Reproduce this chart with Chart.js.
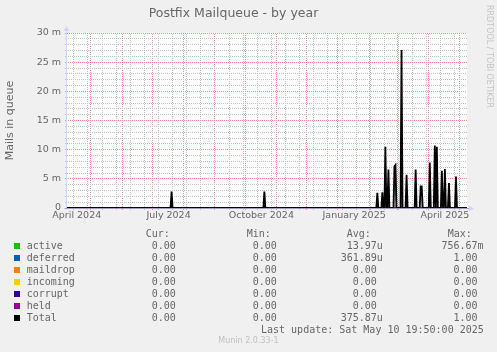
<!DOCTYPE html>
<html><head><meta charset="utf-8">
<script src="https://cdn.jsdelivr.net/npm/chart.js@4"></script>
<style>
html,body{margin:0;padding:0;background:#f0f0f0;}
#wrap{position:relative;width:497px;height:352px;overflow:hidden;background:#f0f0f0;}
#c{position:absolute;left:0;top:0;}
.t{position:absolute;font-family:"DejaVu Sans Mono",monospace;font-size:10px;line-height:12px;height:12px;color:#666;white-space:pre;}
.sq{position:absolute;width:6px;height:6px;}
#wm{position:absolute;left:484px;top:5px;writing-mode:vertical-rl;font-family:"DejaVu Sans",sans-serif;font-size:8px;line-height:10px;color:#c4c4c4;white-space:pre;}
#ver{position:absolute;left:0;width:497px;text-align:center;top:335px;font-family:"DejaVu Sans",sans-serif;font-size:8px;line-height:11px;color:#c0c0c0;}
</style></head><body>
<div id="wrap">
<canvas id="c" width="497" height="352"></canvas>
<div id="wm">RRDTOOL / TOBI OETIKER</div>
<div id="ver">Munin 2.0.33-1</div>
</div>
<script>
// ---------------- data ----------------
const titleText = 'Postfix Mailqueue - by year';
const yAxisTitle = 'Mails in queue';
// daily consolidated values, in milli (m) units
const activeDates  = ['2024-07-20', '2024-10-20'];
const activeValues = [2.8, 2.8];
const deferredDates  = ['2025-02-09','2025-02-14','2025-02-17','2025-02-20','2025-02-26','2025-02-27',
                        '2025-03-05','2025-03-10','2025-03-19','2025-03-24','2025-03-25',
                        '2025-04-02','2025-04-07','2025-04-09','2025-04-14','2025-04-17','2025-04-21','2025-04-28'];
const deferredValues = [2.6, 2.7, 10.5, 6.6, 7.2, 7.4,
                        27.1, 5.7, 6.6, 3.7, 3.7,
                        7.8, 10.7, 10.5, 6.4, 6.7, 4.3, 5.4];
const yTickLabels = ['0', '5 m', '10 m', '15 m', '20 m', '25 m', '30 m'];
const xLabelMonths = ['2024-04-01', '2024-07-01', '2024-10-01', '2025-01-01', '2025-04-01'];
const xLabelTexts  = ['April 2024', 'July 2024', 'October 2024', 'January 2025', 'April 2025'];
const legendNames = ['active', 'deferred', 'maildrop', 'incoming', 'corrupt', 'held', 'Total'];
const legendCur = ['0.00', '0.00', '0.00', '0.00', '0.00', '0.00', '0.00'];
const legendMin = ['0.00', '0.00', '0.00', '0.00', '0.00', '0.00', '0.00'];
const legendAvg = ['13.97u', '361.89u', '0.00', '0.00', '0.00', '0.00', '375.87u'];
const legendMax = ['756.67m', '1.00', '0.00', '0.00', '0.00', '0.00', '1.00'];
const lastUpdate = 'Last update: Sat May 10 19:50:00 2025';

// ---------------- styles ----------------
const seriesColors = ['#00CC00', '#0066B3', '#FF8000', '#FFCC00', '#330099', '#990099', '#000000'];
const FONT = '"DejaVu Sans", sans-serif';
const TXT = '#666666';
const GRID_C = '#c2c2c2';
const MGRID_C = '#f29090';
const AXIS = '#CFD6F8';
const BASE = '#a49cc4';

const canvas = document.getElementById('c');
const mainCtx = canvas.getContext('2d');
function dotPattern(color) {
  const c = document.createElement('canvas');
  c.width = 2; c.height = 2;
  const g = c.getContext('2d');
  g.fillStyle = color;
  g.fillRect(0, 0, 1, 1);
  g.fillRect(1, 1, 1, 1);
  return mainCtx.createPattern(c, 'repeat');
}
const GRID = dotPattern(GRID_C);
const MGRID = dotPattern(MGRID_C);

// ---------------- helpers ----------------
const DAY = 86400000;
const dayOf = s => Date.parse(s + 'T00:00:00Z') / DAY;
const xMin = Date.UTC(2024, 3, 7, 7) / DAY;
const xMax = Date.UTC(2025, 4, 8, 22) / DAY;
const days = [];
for (let d = Math.floor(xMin) - 1; d <= Math.ceil(xMax) + 1; d++) days.push(d);
function seriesFrom(dates, values) {
  const m = new Map(dates.map((s, i) => [dayOf(s), values[i]]));
  return days.map(d => m.get(d) || 0);
}
const activeS = seriesFrom(activeDates, activeValues);
const deferredS = seriesFrom(deferredDates, deferredValues);
const zeroS = seriesFrom([], []);
const totalS = days.map((d, i) => activeS[i] + deferredS[i]);
const pts = arr => arr.map((v, i) => ({x: days[i], y: v}));

// x ticks: month starts (major), biweekly sundays (minor), label ticks (mid-month)
const majorTicks = [];
for (let y = 2024, m = 4; y * 12 + m <= 2025 * 12 + 4; m++) {
  if (m > 11) { m = 0; y++; }
  majorTicks.push(Date.UTC(y, m, 1) / DAY);
}
const majorSet = new Set(majorTicks);
const minorTicks = [];
for (let d = dayOf('2024-04-14'); d <= xMax; d += 14) if (!majorSet.has(d)) minorTicks.push(d);
const labelTickMap = new Map(xLabelMonths.map((s, i) => [dayOf(s) + 16, xLabelTexts[i]]));
const inX = v => v >= xMin && v <= xMax;
const yMajorTicks = [0, 5, 10, 15, 20, 25, 30];
const yMinorTicks = [];
for (let v = 1; v < 30; v++) if (v % 5 !== 0) yMinorTicks.push(v);

const bgPlugin = {
  id: 'bg',
  beforeDraw(chart) {
    const {ctx, chartArea: a} = chart;
    ctx.save();
    ctx.fillStyle = '#ffffff';
    ctx.fillRect(a.left, a.top, a.right - a.left, a.bottom - a.top);
    ctx.restore();
  },
  afterDatasetsDraw(chart) {
    const {ctx, chartArea: a} = chart;
    ctx.save();
    ctx.setLineDash([]);
    ctx.lineWidth = 1;
    const lx = Math.round(a.left) - 0.5, by = Math.round(a.bottom) + 0.5;
    ctx.strokeStyle = AXIS; ctx.fillStyle = AXIS;
    ctx.beginPath();
    ctx.moveTo(lx, by); ctx.lineTo(lx, a.top - 3);
    ctx.stroke();
    ctx.beginPath();
    ctx.moveTo(lx, a.top - 7); ctx.lineTo(lx - 3, a.top - 2); ctx.lineTo(lx + 3, a.top - 2); ctx.closePath(); ctx.fill();
    ctx.beginPath();
    ctx.moveTo(a.right + 7, by); ctx.lineTo(a.right + 2, by - 3); ctx.lineTo(a.right + 2, by + 3); ctx.closePath(); ctx.fill();
    ctx.strokeStyle = BASE;
    ctx.beginPath();
    ctx.moveTo(lx - 2, by); ctx.lineTo(a.right + 2, by);
    ctx.stroke();
    ctx.restore();
  }
};

function deferredFill(context) {
  const chart = context.chart;
  const a = chart.chartArea;
  if (!a) return '#2c4a66';
  const g = chart.ctx.createLinearGradient(0, a.top, 0, a.bottom);
  g.addColorStop(0, '#0e1c2c');
  g.addColorStop(0.6, '#2c4a66');
  g.addColorStop(1, '#c9d8e6');
  return g;
}

const base = {pointRadius: 0, tension: 0, borderWidth: 1, xAxisID: 'x', yAxisID: 'y'};
const datasets = [
  Object.assign({label: 'Total', data: pts(totalS), borderColor: '#000000', fill: false, order: 0}, base, {borderWidth: 1.8}),
  Object.assign({label: 'active', data: pts(activeS), borderColor: seriesColors[0], backgroundColor: seriesColors[0], fill: 'origin', order: 6}, base, {borderWidth: 0}),
  Object.assign({label: 'deferred', data: pts(deferredS), borderColor: seriesColors[1], backgroundColor: deferredFill, fill: 'origin', order: 5}, base, {borderWidth: 0}),
  Object.assign({label: 'maildrop', data: pts(zeroS), borderColor: seriesColors[2], fill: false, order: 4}, base),
  Object.assign({label: 'incoming', data: pts(zeroS), borderColor: seriesColors[3], fill: false, order: 3}, base),
  Object.assign({label: 'corrupt', data: pts(zeroS), borderColor: seriesColors[4], fill: false, order: 2}, base),
  Object.assign({label: 'held', data: pts(zeroS), borderColor: seriesColors[5], fill: false, order: 1}, base),
];

function gridAxisX(list, color, tickColor, weight) {
  return {
    type: 'linear', position: 'bottom', min: xMin, max: xMax, weight,
    afterBuildTicks(scale) { scale.ticks = list.filter(inX).map(v => ({value: v})); },
    afterFit(scale) { scale.height = 0; },
    ticks: {display: false, autoSkip: false},
    grid: {display: true, color: color, tickColor: tickColor, tickLength: 2, drawTicks: true, lineWidth: 1},
    border: {display: false}
  };
}

new Chart(canvas, {
  type: 'line',
  data: {datasets},
  plugins: [bgPlugin],
  options: {
    responsive: false,
    animation: false,
    events: [],
    layout: {padding: {left: 0, right: 30, top: 0, bottom: 128}},
    plugins: {
      legend: {display: false},
      tooltip: {enabled: false},
      title: {display: true, text: titleText, color: TXT,
              font: {family: FONT, size: 12.5, weight: 'normal', lineHeight: 1.2},
              padding: {top: 6, bottom: 12}}
    },
    scales: {
      xMinor: gridAxisX(minorTicks, GRID, GRID_C, 0),
      xMajor: gridAxisX(majorTicks, MGRID, MGRID_C, 0),
      x: {
        type: 'linear', position: 'bottom', min: xMin, max: xMax, weight: 1,
        afterBuildTicks(scale) { scale.ticks = [...labelTickMap.keys()].filter(inX).map(v => ({value: v})); },
        afterFit(scale) { scale.height = 16; },
        ticks: {
          autoSkip: false, maxRotation: 0, minRotation: 0, padding: 2,
          color: TXT, font: {family: FONT, size: 9.5},
          callback: v => labelTickMap.get(v) || ''
        },
        grid: {display: false, drawTicks: false},
        border: {display: false}
      },
      yMinor: {
        type: 'linear', position: 'left', min: 0, max: 30, weight: 0,
        afterBuildTicks(scale) { scale.ticks = yMinorTicks.map(v => ({value: v})); },
        afterFit(scale) { scale.width = 0; },
        ticks: {display: false, autoSkip: false},
        grid: {display: true, color: GRID, tickColor: GRID_C, tickLength: 2, drawTicks: true, lineWidth: 1},
        border: {display: false}
      },
      y: {
        type: 'linear', position: 'left', min: 0, max: 30, weight: 1,
        afterBuildTicks(scale) { scale.ticks = yMajorTicks.map(v => ({value: v})); },
        afterFit(scale) { scale.width = 67; },
        ticks: {
          autoSkip: false, padding: 4, color: TXT, font: {family: FONT, size: 9.5},
          callback: v => yTickLabels[yMajorTicks.indexOf(v)]
        },
        grid: {display: true, color: MGRID, tickColor: MGRID_C, tickLength: 2, drawTicks: true, lineWidth: 1},
        border: {display: false},
        title: {display: true, text: yAxisTitle, color: TXT, font: {family: FONT, size: 11}, padding: {top: 4, bottom: 0}}
      }
    }
  }
});

// ---------------- legend table (HTML text) ----------------
const wrap = document.getElementById('wrap');
function addText(txt, opts) {
  const s = document.createElement('div');
  s.className = 't';
  s.textContent = txt;
  if (opts.left !== undefined) s.style.left = opts.left + 'px';
  if (opts.right !== undefined) { s.style.right = (497 - opts.right) + 'px'; s.style.textAlign = 'right'; }
  s.style.top = (opts.cy - 6) + 'px';
  wrap.appendChild(s);
}
const headY = 234;
addText('Cur:', {left: 145.7, cy: headY});
addText('Min:', {left: 246.7, cy: headY});
addText('Avg:', {left: 346.7, cy: headY});
addText('Max:', {left: 447.7, cy: headY});
const withUnit = v => (/[a-zA-Z]$/.test(v) ? v : v + ' ');
legendNames.forEach((name, i) => {
  const cy = 245.7 + 12 * i;
  const sq = document.createElement('div');
  sq.className = 'sq';
  sq.style.left = '14px';
  sq.style.top = (cy - 3) + 'px';
  sq.style.background = seriesColors[i];
  wrap.appendChild(sq);
  addText(name, {left: 26.7, cy});
  addText(withUnit(legendCur[i]), {right: 181.8, cy});
  addText(withUnit(legendMin[i]), {right: 282.8, cy});
  addText(withUnit(legendAvg[i]), {right: 382.8, cy});
  addText(withUnit(legendMax[i]), {right: 483.6, cy});
});
addText(lastUpdate, {left: 261, cy: 329.7});
</script>
</body></html>
